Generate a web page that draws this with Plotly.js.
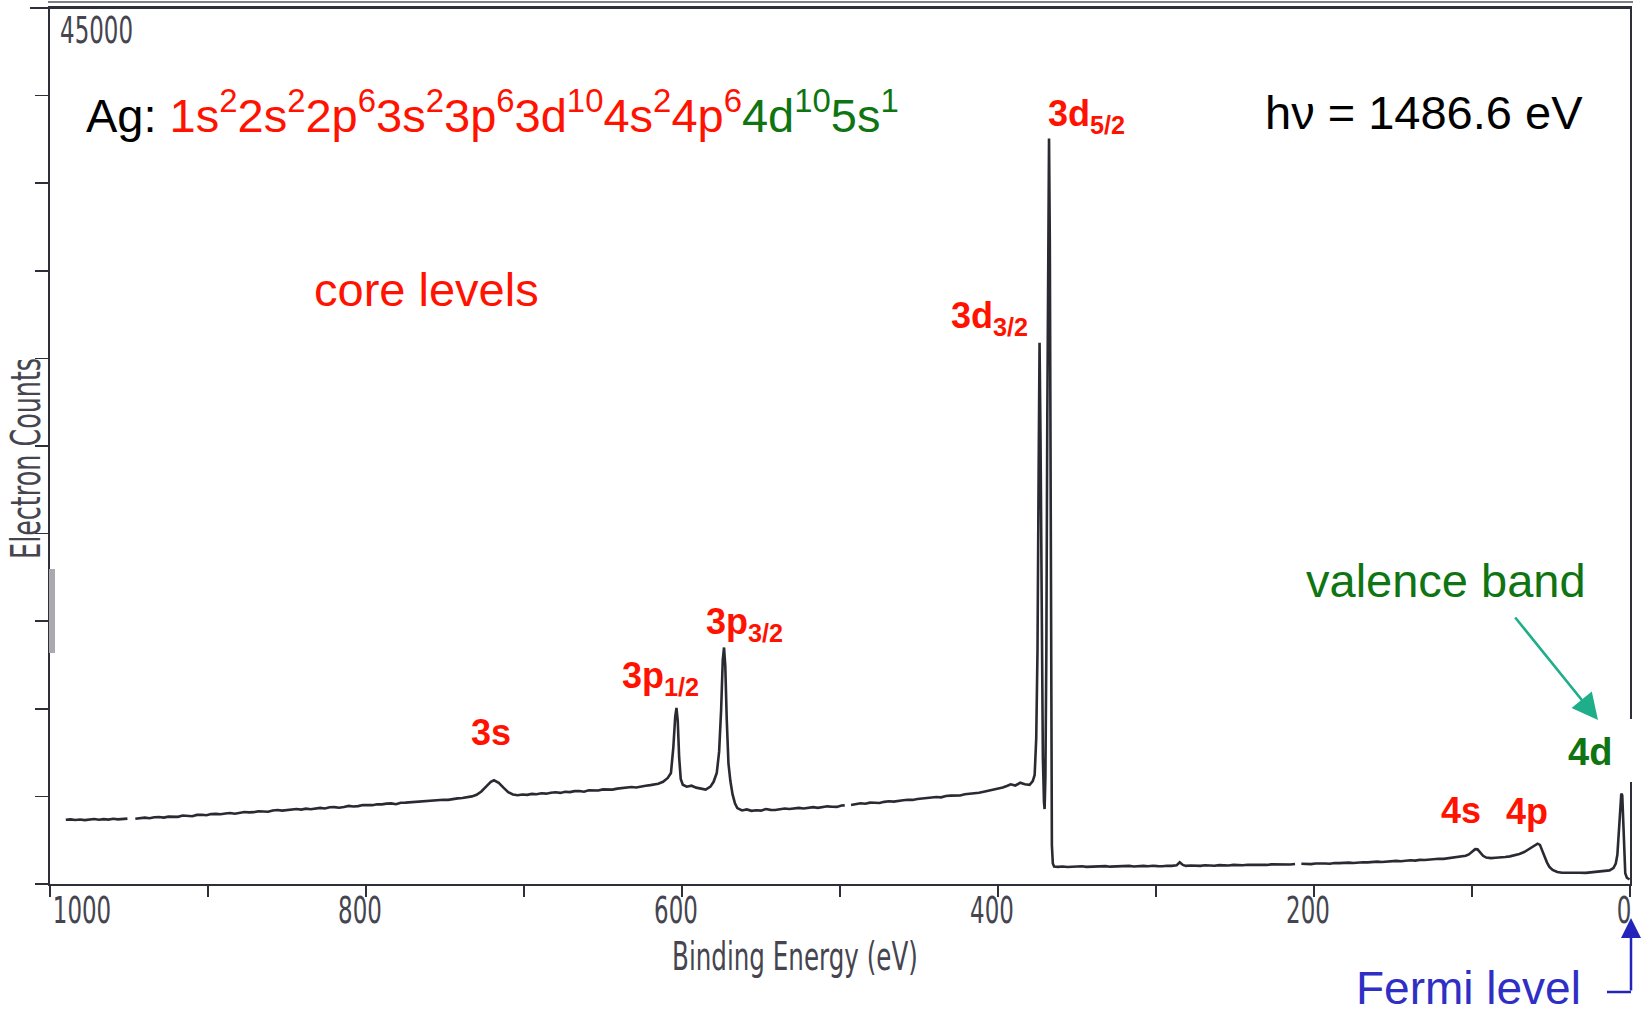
<!DOCTYPE html>
<html><head><meta charset="utf-8">
<script src="https://cdn.plot.ly/plotly-3.0.1.min.js"></script>
<style>html,body{margin:0;padding:0;background:#fff;}#chart{width:1652px;height:1016px;}</style>
</head><body><div id="chart"></div>
<script>
// ---- data: [binding energy (eV), electron counts] ----
const bgHigh = [[990,3300],[987,3320],[984,3290],[981,3310],[978,3280],[975,3320],[972,3340],[969,3300],[966,3330],[963,3310],[960,3350],[957,3320],[954,3340],[951,3360],[949,null],[946,3350],[943,3390],[940,3410],[937,3380],[934,3430],[931,3440],[928,3410],[925,3460],[922,3470],[919,3450],[916,3520],[913,3490],[910,3480],[907,3550],[904,3560],[901,3530],[898,3590],[895,3600],[892,3580],[889,3620],[886,3650],[883,3610],[880,3640],[877,3700],[874,3680],[871,3690],[868,3740],[865,3730],[862,3710],[859,3780],[856,3800],[853,3770],[850,3790],[847,3830],[844,3850],[841,3820],[838,3870],[835,3840],[832,3890],[829,3910],[826,3880],[823,3940],[820,3950],[817,3920],[814,3960],[811,4010],[808,3980],[805,4000],[802,4060],[799,4040],[796,4050],[793,4100],[790,4090],[787,4130],[784,4140],[781,4100],[778,4170],[775,4180],[772,4200],[769,4190],[766,4240],[763,4230],[760,4250],[757,4290],[754,4300],[751,4330],[748,4320],[745,4370],[742,4400],[739,4420],[736,4460],[733,4500],[730,4580]];
const peak3s = [[727,4750],[724,5000],[721,5250],[719,5330],[716,5200],[713,4950],[710,4720],[707,4600],[704,4560],[701,4600],[698,4580],[695,4630],[692,4610],[689,4660],[686,4640],[683,4690],[680,4710],[677,4680],[674,4740],[671,4720],[668,4770],[665,4780],[662,4740],[659,4810],[656,4820],[653,4800],[650,4860],[647,4870],[644,4850],[641,4900],[638,4920],[635,4950],[632,4980],[629,4960],[626,5020],[623,5050],[620,5080],[617,5110],[615,5150]];
const peaks3p = [[612,5250],[609,5450],[607,5700],[605.5,7000],[604.3,8600],[603.5,9050],[602.7,8400],[601.8,6500],[600.8,5400],[599.5,5100],[597,5000],[594,5050],[591,4950],[588,4880],[585,4850],[582,5000],[580,5250],[578,5700],[576.5,6800],[575.2,9000],[574.2,11500],[573.4,12150],[572.6,11200],[571.7,8500],[570.6,6200],[569.4,5300],[568,4600],[566.5,4150],[565,3900],[562,3780]];
const bgMid = [[559,3830],[556,3760],[553,3790],[550,3770],[547,3850],[544,3810],[541,3800],[538,3840],[535,3880],[532,3850],[529,3870],[526,3910],[523,3880],[520,3930],[517,3950],[514,3910],[511,3960],[508,3990],[505,3970],[502,3960],[499,4030],[497,4040],[495,null],[493,4060],[490,4100],[487,4150],[484,4120],[481,4180],[478,4170],[475,4160],[472,4220],[469,4250],[466,4230],[463,4280],[460,4300],[457,4330],[454,4320],[451,4370],[448,4390],[445,4440],[442,4460],[439,4470],[436,4450],[433,4520],[430,4540],[427,4560],[424,4550],[421,4610],[418,4630],[415,4650],[412,4690],[409,4740],[406,4790],[403,4860],[400,4920],[397,4960],[394,5050],[392,5120],[389,5060],[386,5200],[383,5120],[380,5090],[378,5280]];
const peaks3d = [[376.8,5600],[375.8,7500],[375,12000],[374.3,21000],[373.7,27800],[373.1,23000],[372.4,13000],[371.6,6500],[370.9,4200],[370.5,3850],[370,5500],[369.4,12000],[368.8,24000],[368.2,34500],[367.7,38300],[367.2,33000],[366.7,18000],[366.3,6000],[365.9,2000],[365.3,1050],[364.5,900]];
const bgLow = [[362,880],[359,900],[356,870],[353,880],[350,900],[347,910],[344,880],[341,890],[338,910],[335,900],[332,920],[329,890],[326,900],[323,920],[320,910],[317,930],[314,900],[311,920],[308,930],[305,910],[302,940],[299,920],[296,910],[293,940],[290,930],[287,960],[285,1120],[283,980],[281,930],[278,950],[275,940],[272,930],[269,960],[266,950],[263,940],[260,970],[257,960],[254,950],[251,980],[248,970],[245,960],[242,990],[239,980],[236,1000],[233,990],[230,980],[227,1010],[224,1000],[221,1020],[218,1010],[215,1000],[212,1030],[210,null],[208,1040],[205,1030],[202,1020],[199,1050],[196,1060],[193,1050],[190,1040],[187,1080],[184,1070],[181,1090],[178,1100],[175,1080],[172,1110],[169,1120],[166,1110],[163,1140],[160,1150],[157,1130],[154,1160],[151,1180],[148,1190],[145,1170],[142,1210],[139,1220],[136,1200],[133,1240],[130,1230],[127,1260],[124,1280],[121,1300],[118,1290],[115,1320],[112,1350],[109,1380],[106,1410],[104,1450]];
const valence = [[102,1520],[100,1680],[98,1790],[96.5,1780],[95,1620],[93,1450],[91,1360],[88,1330],[85,1350],[82,1360],[79,1390],[76,1420],[73,1470],[70,1540],[67,1640],[64,1780],[62,1900],[60,1990],[58.5,2070],[57,2010],[55.5,1750],[54,1400],[52.5,1100],[51,880],[49,720],[46,620],[43,580],[40,570],[36,560],[32,580],[28,570],[24,600],[20,620],[16,650],[13,700],[10.5,820],[9,1050],[8,1500],[7,2600],[6.2,3900],[5.5,4650],[4.9,4550],[4.3,3300],[3.6,1400],[3,550],[2,320],[1,250],[0.3,230]];

const xTickVals = [1000, 800, 600, 400, 200, 0];
const xTickText = ['1000', '800', '600', '400', '200', '0'];
const yTopLabel = '45000';

// ---- build trace ----
const spectrum = [].concat(bgHigh, peak3s, peaks3p, bgMid, peaks3d, bgLow, valence);
const be = spectrum.map(p => p[0]);
const counts = spectrum.map(p => p[1]);

// pixel -> paper helpers for decorations
const L = 50, R = 1630, T = 8, B = 884;
const px = x => (x - L) / (R - L);
const py = y => (B - y) / (B - T);

const narrow = 'DejaVu Sans, sans-serif';
const arial = 'Liberation Sans, Arial, Helvetica, sans-serif';
const RED = '#ff1200', GREEN = '#0f7412', AX = '#2f2f3a', TXT = '#45454f';

const trace = {
  x: be, y: counts, type: 'scatter', mode: 'lines',
  line: {color: '#2a2a33', width: 2.6}, connectgaps: false, hoverinfo: 'skip'
};

function lab(text, x, y, color, size, extra) {
  return Object.assign({text: text, xref: 'paper', yref: 'paper', x: px(x), y: py(y),
    xanchor: 'center', yanchor: 'middle', showarrow: false,
    font: {family: arial, size: size, color: color}}, extra || {});
}

const config = "Ag: <span style='color:" + RED + "'>1s<sup>2</sup>2s<sup>2</sup>2p<sup>6</sup>3s<sup>2</sup>3p<sup>6</sup>3d<sup>10</sup>4s<sup>2</sup>4p<sup>6</sup></span>" +
  "<span style='color:" + GREEN + "'>4d<sup>10</sup>5s<sup>1</sup></span>";

const annotations = [
  lab(config, 84, 112, '#000', 47, {xanchor: 'left'}),
  lab('hν = 1486.6 eV', 1263, 112, '#000', 47, {xanchor: 'left'}),
  lab('core levels', 426, 290, RED, 47),
  lab('valence band', 1446, 580, GREEN, 47),
  lab('<b>3s</b>', 491, 732, RED, 36),
  lab('<b>3p<sub>1/2</sub></b>', 660, 678, RED, 36),
  lab('<b>3p<sub>3/2</sub></b>', 744, 624, RED, 36),
  lab('<b>3d<sub>3/2</sub></b>', 990, 318, RED, 36),
  lab('<b>3d<sub>5/2</sub></b>', 1086, 116, RED, 36),
  lab('<b>4s</b>', 1461, 810, RED, 36),
  lab('<b>4p</b>', 1527, 811, RED, 36),
  lab('<b>4d</b>', 1590, 752, GREEN, 38),
  lab('Fermi level', 1468, 988, '#2f2fc6', 46),
  // valence band arrow
  {text: '', xref: 'paper', yref: 'paper', x: px(1598), y: py(720), ax: -84, ay: -104,
   showarrow: true, arrowhead: 2, arrowsize: 2, arrowwidth: 2.6, arrowcolor: '#1fae8a'},
  // Fermi level arrow
  {text: '', xref: 'paper', yref: 'paper', x: px(1631), y: py(918), ax: 0, ay: 74,
   showarrow: true, arrowhead: 2, arrowsize: 1.6, arrowwidth: 2.5, arrowcolor: '#2424bb'},
  // axis texts (plotter style, condensed below)
  lab(yTopLabel, 50, 30, TXT, 28, {xanchor: 'left', font: {family: narrow, size: 28, color: TXT}}),
  lab('Electron Counts', 25, 459, TXT, 31, {textangle: -90, font: {family: narrow, size: 31, color: TXT}}),
  lab('Binding Energy (eV)', 795, 957, TXT, 30, {font: {family: narrow, size: 30, color: TXT}})
];

const shapes = [
  {type: 'rect', xref: 'paper', yref: 'paper', x0: px(1540), x1: px(1634), y0: py(782), y1: py(719),
   fillcolor: '#ffffff', line: {width: 0}, layer: 'above'},
  {type: 'line', xref: 'paper', yref: 'paper', x0: px(30), x1: px(1630), y0: py(8), y1: py(8),
   line: {color: AX, width: 2}},
  {type: 'line', xref: 'paper', yref: 'paper', x0: px(48), x1: px(1633), y0: py(2), y1: py(2),
   line: {color: '#55555f', width: 1.5}},
  {type: 'rect', xref: 'paper', yref: 'paper', x0: px(49), x1: px(55), y0: py(653), y1: py(569),
   fillcolor: '#a9a9ae', line: {width: 0}, layer: 'above'},
  {type: 'line', xref: 'paper', yref: 'paper', x0: px(1607), x1: px(1631), y0: py(992), y1: py(992),
   line: {color: '#2424bb', width: 2.5}}
];

const layout = {
  width: 1652, height: 1016,
  margin: {l: L, r: 1652 - R, t: T, b: 1016 - B, pad: 0},
  paper_bgcolor: '#ffffff', plot_bgcolor: '#ffffff',
  showlegend: false,
  xaxis: {
    range: [1000, 0], showgrid: false, zeroline: false,
    showline: true, linecolor: AX, linewidth: 2, mirror: true,
    tickmode: 'array', tickvals: xTickVals, ticktext: xTickText, ticks: '',
    tickfont: {family: narrow, size: 28, color: TXT},
    minor: {tickmode: 'linear', tick0: 0, dtick: 100, ticks: 'outside', ticklen: 11, tickwidth: 1.5, tickcolor: AX, showgrid: false}
  },
  yaxis: {
    range: [0, 45000], showgrid: false, zeroline: false,
    showline: true, linecolor: AX, linewidth: 2, mirror: true,
    tickmode: 'linear', tick0: 0, dtick: 4500, ticks: 'outside', ticklen: 13, tickwidth: 1.5, tickcolor: AX,
    showticklabels: false
  },
  annotations: annotations,
  shapes: shapes
};

Plotly.newPlot('chart', [trace], layout, {displayModeBar: false, staticPlot: true}).then(function () {
  // give the axis texts the tall, narrow look of the plotter font (scale about each text's own centre)
  const plotterTexts = ['45000', 'Electron Counts', 'Binding Energy (eV)'];
  const els = [];
  document.querySelectorAll('.xtick text').forEach(function (t) {
    // the plotter printed its first label inside the frame and the others slightly left of the tick
    t.setAttribute('transform', (t.getAttribute('transform') || '') + (t.textContent === '1000' ? ' translate(32,0)' : ' translate(-6,0)'));
    els.push(t);
  });
  document.querySelectorAll('.annotation-text').forEach(function (t) {
    if (plotterTexts.indexOf(t.textContent) >= 0) els.push(t);
  });
  els.forEach(function (t) {
    const b = t.getBBox();
    const cx = b.x + b.width / 2, cy = b.y + b.height / 2;
    const orig = t.getAttribute('transform') || '';
    t.setAttribute('transform', orig + ' translate(' + cx + ',' + cy + ') scale(0.82,1.32) translate(' + (-cx) + ',' + (-cy) + ')');
  });
});
</script>
</body></html>
